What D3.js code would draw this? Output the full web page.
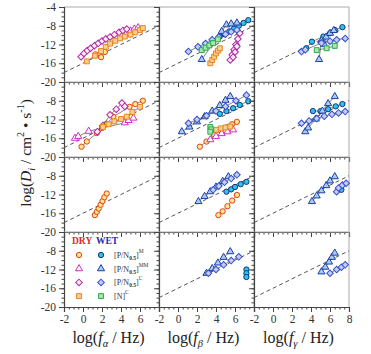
<!DOCTYPE html>
<html>
<head>
<meta charset="utf-8">
<script src="https://cdn.jsdelivr.net/npm/d3@7"></script>
<style>
  body { margin: 0; background: #fff; }
  svg { display: block; font-family: 'Liberation Serif', 'DejaVu Serif', serif; }
  .axis path, .axis line { stroke: #444; }
  .axis text { font-family: 'Liberation Serif', serif; font-size: 11.5px; fill: #333; }
</style>
</head>
<body>
<svg id="chart" width="371" height="354"></svg>
<script>
// tick labels and panel setup
var xTicks = [-2, 0, 2, 4, 6, 8];
var yTicks = [-4, -8, -12, -16, -20];
var freqSymbols = ['α', 'β', 'γ'];
var seriesKeys = ['dryM', 'dryMM', 'dryC', 'dryN', 'wetM', 'wetMM', 'wetC', 'wetN'];
var legendSups = ['M', 'MM', 'C', 'C'];
var refLine = [[-2, -18], [8, -8]];

// data per panel: [row, col] -> series -> [log f, log D]
var p00 = {
  dryC: [[-0.2, -14.6], [0.1, -13.9], [0.45, -13.3], [0.8, -12.8], [1.2, -12.25], [1.6, -11.75], [2.0, -11.25], [2.4, -10.8], [2.85, -10.4], [3.3, -9.9], [3.8, -9.4], [4.2, -9.0], [4.6, -8.7]],
  dryN: [[0.4, -15.6], [1.25, -14.4], [1.9, -13.4], [2.4, -12.5], [2.85, -11.8], [3.4, -11.2], [3.9, -10.7], [4.4, -10.3], [5.0, -9.9], [5.5, -9.4], [6.0, -8.9], [6.3, -8.5]],
  dryM: [[1.3, -14.1], [1.9, -14.7], [2.3, -13.6]],
  dryMM: [[4.6, -9.6], [5.0, -9.1], [5.4, -8.7], [5.8, -8.4]]
};
var p01 = {
  wetC: [[1.1, -13.5], [2.1, -12.5], [2.9, -11.8], [3.6, -11.0], [4.3, -10.4], [5.0, -9.8], [5.6, -9.3], [6.2, -8.9]],
  wetMM: [[2.5, -15.2], [4.6, -9.2], [5.1, -7.8], [5.6, -7.6], [6.2, -7.4]],
  wetN: [[2.5, -13.2], [2.9, -12.7], [3.3, -12.2], [3.7, -11.7], [4.2, -10.9]],
  wetM: [[4.4, -10.3], [4.9, -9.8], [5.4, -9.2], [5.9, -8.6], [6.4, -8.0], [6.9, -7.4], [7.4, -6.8]],
  dryN: [[3.4, -16.0], [3.6, -15.3], [3.8, -14.6], [4.0, -13.9], [4.2, -13.3], [4.4, -12.8]],
  dryC: [[5.5, -15.3], [5.7, -14.2], [5.9, -13.1], [6.1, -12.0], [6.3, -10.8], [6.5, -9.6], [5.8, -14.7], [6.0, -13.6], [6.2, -12.4]]
};
var p02 = {
  wetM: [[3.5, -12.8], [4.1, -11.4], [5.3, -10.3], [6.0, -9.6], [6.5, -8.9], [7.3, -8.3]],
  wetC: [[3.0, -13.5], [3.4, -13.1], [5.1, -11.7], [6.0, -11.3], [6.7, -11.0], [7.6, -10.7]],
  wetN: [[4.6, -13.2], [5.65, -12.8], [6.5, -12.3]],
  wetMM: [[4.85, -15.2], [5.1, -11.2], [5.6, -10.4], [6.0, -9.6], [6.4, -9.0], [5.4, -12.0]]
};
var p10 = {
  dryMM: [[-0.85, -16.0], [-0.5, -15.6], [0.6, -14.5], [4.4, -12.7], [4.8, -12.2], [5.3, -11.7]],
  dryM: [[-0.15, -17.8], [0.4, -16.7], [1.45, -14.9], [2.0, -13.8], [2.5, -12.9], [3.2, -11.4], [4.9, -9.3], [5.5, -8.7], [6.3, -8.0]],
  dryN: [[2.1, -13.6], [2.7, -13.0], [3.3, -12.4], [4.0, -11.9], [4.6, -11.4], [5.2, -10.4], [6.0, -9.3]],
  dryC: [[1.5, -14.6], [2.1, -13.3], [2.85, -11.0], [3.5, -9.8], [4.1, -8.5], [4.4, -9.2]]
};
var p11 = {
  wetMM: [[0.4, -14.6], [1.2, -13.6], [2.0, -12.5], [2.8, -11.4], [3.6, -10.2], [4.4, -9.0], [5.0, -7.9], [5.5, -7.1]],
  wetC: [[1.1, -12.8], [2.0, -12.0], [3.0, -11.2], [4.0, -10.2], [5.0, -9.2], [6.1, -8.0], [7.2, -6.8]],
  wetM: [[4.4, -10.8], [5.1, -10.2], [5.8, -9.6], [6.5, -8.9], [7.4, -8.1]],
  wetN: [[3.4, -13.6], [3.5, -14.1], [3.4, -14.6]],
  dryM: [[2.3, -17.8], [3.0, -16.7], [3.8, -15.3], [4.5, -14.3], [5.2, -13.6], [5.7, -13.0], [6.2, -12.5]],
  dryN: [[4.0, -14.2], [4.5, -13.9], [5.0, -13.7], [5.5, -13.5]],
  dryMM: [[3.4, -16.3], [4.0, -15.6], [4.6, -15.0], [5.2, -14.6], [5.8, -14.2]]
};
var p12 = {
  wetC: [[3.0, -12.8], [3.8, -12.3], [4.6, -11.8], [5.4, -11.3], [6.2, -10.9], [6.9, -10.6], [7.6, -10.3]],
  wetMM: [[3.4, -14.6], [3.7, -13.8], [4.5, -11.9], [5.2, -10.2], [5.8, -8.6], [6.5, -7.1]],
  wetM: [[4.2, -10.2], [5.0, -10.2], [5.8, -9.8], [6.6, -9.2], [7.3, -8.7]]
};
var p20 = {
  dryM: [[1.25, -16.4], [1.45, -15.7], [1.65, -15.0], [1.85, -14.2], [2.05, -13.4], [2.25, -12.6], [2.5, -11.8]]
};
var p21 = {
  wetMM: [[2.15, -13.5], [2.8, -12.4], [3.4, -11.4], [4.0, -10.4], [4.7, -9.2], [5.3, -8.2]],
  wetC: [[3.7, -11.0], [4.3, -10.2], [4.9, -9.4], [5.6, -8.6], [6.2, -7.8]],
  wetM: [[5.1, -11.4], [5.6, -10.9], [6.0, -10.4], [6.6, -9.8], [7.2, -9.3]],
  dryM: [[4.25, -16.4], [4.7, -15.6], [5.2, -14.5], [5.7, -13.3], [6.2, -12.1]]
};
var p22 = {
  wetMM: [[4.1, -13.5], [4.6, -12.3], [5.1, -11.2], [5.6, -10.1], [6.0, -9.1], [6.5, -8.2]],
  wetC: [[6.7, -11.4], [6.9, -10.6], [7.3, -10.0], [7.7, -9.6]],
  wetM: [[7.2, -11.0]]
};
var p31 = {
  wetMM: [[3.0, -12.8], [3.6, -11.8], [4.2, -10.6], [4.8, -9.4], [5.5, -8.2]],
  wetC: [[3.2, -12.8], [4.0, -12.0], [4.8, -11.0], [5.6, -10.1], [6.4, -9.3]],
  wetM: [[7.2, -12.0], [7.2, -12.8], [7.2, -13.6]]
};
var p32 = {
  wetMM: [[5.1, -12.5], [5.5, -11.5], [5.9, -10.4], [6.2, -9.4], [6.5, -8.5]],
  wetC: [[6.0, -12.8], [6.7, -12.0], [7.2, -11.5], [7.6, -11.0]]
};
var panels = [
  {row: 0, col: 0, data: p00}, {row: 0, col: 1, data: p01}, {row: 0, col: 2, data: p02},
  {row: 1, col: 0, data: p10}, {row: 1, col: 1, data: p11}, {row: 1, col: 2, data: p12},
  {row: 2, col: 0, data: p20}, {row: 2, col: 1, data: p21}, {row: 2, col: 2, data: p22},
  {row: 3, col: 0, data: null}, {row: 3, col: 1, data: p31}, {row: 3, col: 2, data: p32}
];

// diamonds drawn as a square turned 45deg
var styles = {
  dryM:  {shape: d3.symbolCircle,   size: 22, rot: 0,  stroke: '#e2401e', fill: '#fbe98a'},
  dryMM: {shape: d3.symbolTriangle, size: 22, rot: 0,  stroke: '#d22ec4', fill: '#ffffff'},
  dryC:  {shape: d3.symbolSquare,   size: 22, rot: 45, stroke: '#b02aa8', fill: '#fbeef2'},
  dryN:  {shape: d3.symbolSquare,   size: 24, rot: 0,  stroke: '#e8841e', fill: '#f8cf92'},
  wetM:  {shape: d3.symbolCircle,   size: 22, rot: 0,  stroke: '#13357e', fill: '#2ec3ea'},
  wetMM: {shape: d3.symbolTriangle, size: 22, rot: 0,  stroke: '#1e3fa0', fill: '#a8cbf4'},
  wetC:  {shape: d3.symbolSquare,   size: 22, rot: 45, stroke: '#3353c6', fill: '#c5cbf6'},
  wetN:  {shape: d3.symbolSquare,   size: 24, rot: 0,  stroke: '#2aa94a', fill: '#a6e6b0'}
};

const marginLeft = 64, marginTop = 7, panelW = 95, panelH = 75;
var svg = d3.select('#chart');

panels.forEach(function (p) {
  var x0 = marginLeft + p.col * panelW, y0 = marginTop + p.row * panelH;
  var x = d3.scaleLinear().domain([-2, 8]).range([x0, x0 + panelW]);
  var y = d3.scaleLinear().domain([-20, -4]).range([y0 + panelH, y0]);
  var g = svg.append('g');

  // frame: light top/right border
  g.append('path')
    .attr('d', `M${x0},${y0}H${x0 + panelW}V${y0 + panelH}`)
    .attr('fill', 'none').attr('stroke', '#aaa').attr('stroke-width', 1);

  // minor ticks first, then majors on top
  g.append('g').attr('class', 'axis').attr('transform', `translate(0,${y0 + panelH})`)
    .call(d3.axisBottom(x).tickValues(d3.range(-2, 8.01, 0.5)).tickSize(2.5).tickFormat(''));
  g.append('g').attr('class', 'axis').attr('transform', `translate(${x0},0)`)
    .call(d3.axisLeft(y).tickValues(d3.range(-20, -3.99, 1)).tickSize(2.5).tickFormat(''));

  var xt = p.col === 2 ? xTicks : xTicks.slice(0, 5);
  g.append('g').attr('class', 'axis').attr('transform', `translate(0,${y0 + panelH})`)
    .call(d3.axisBottom(x).tickValues(xTicks).tickSize(5)
      .tickFormat(d => (p.row === 3 && xt.indexOf(d) !== -1) ? d : ''))
    .call(s => s.select('.domain').attr('stroke-width', 1.2));
  var yt = p.row === 0 ? yTicks : yTicks.slice(1);
  g.append('g').attr('class', 'axis').attr('transform', `translate(${x0},0)`)
    .call(d3.axisLeft(y).tickValues(yTicks).tickSize(5)
      .tickFormat(d => (p.col === 0 && yt.indexOf(d) !== -1) ? d : ''))
    .call(s => s.select('.domain').attr('stroke-width', 1.2));

  if (!p.data) return;

  // dashed reference line
  g.append('line')
    .attr('x1', x(refLine[0][0])).attr('y1', y(refLine[0][1]))
    .attr('x2', x(refLine[1][0])).attr('y2', y(refLine[1][1]))
    .attr('stroke', '#555').attr('stroke-width', 1).attr('stroke-dasharray', '4,3');

  seriesKeys.forEach(function (key) {
    var pts = p.data[key];
    if (!pts) return;
    var st = styles[key];
    if (pts.length > 2) {
      var sorted = pts.slice().sort((a, b) => a[0] - b[0]);
      g.append('path')
        .attr('d', d3.line().x(d => x(d[0])).y(d => y(d[1]))(sorted))
        .attr('fill', 'none').attr('stroke', '#333').attr('stroke-width', 0.6);
    }
    g.selectAll('.m-' + key).data(pts).enter().append('path')
      .attr('class', 'm-' + key)
      .attr('transform', d => `translate(${x(d[0])},${y(d[1])}) rotate(${st.rot})`)
      .attr('d', d3.symbol().type(st.shape).size(st.size))
      .attr('fill', st.fill).attr('stroke', st.stroke).attr('stroke-width', 1);
  });
});

// legend in the empty lower-left panel
var lg = svg.append('g');
lg.append('text').attr('x', 72).attr('y', 244).attr('font-size', 9.5).attr('font-weight', 'bold')
  .attr('fill', '#e02828').text('DRY');
lg.append('text').attr('x', 96).attr('y', 244).attr('font-size', 9.5).attr('font-weight', 'bold')
  .attr('fill', '#2a2ab8').text('WET');
legendSups.forEach(function (sup, i) {
  var ly = 255 + i * 13.7;
  [seriesKeys[i], seriesKeys[i + 4]].forEach(function (key, j) {
    var st = styles[key];
    lg.append('path')
      .attr('transform', `translate(${j ? 101 : 79},${ly}) rotate(${st.rot})`)
      .attr('d', d3.symbol().type(st.shape).size(st.size))
      .attr('fill', st.fill).attr('stroke', st.stroke).attr('stroke-width', 1);
  });
  var t = lg.append('text').attr('x', 114).attr('y', ly + 3).attr('font-size', 8).attr('fill', '#333');
  if (i < 3) {
    t.append('tspan').text('[P/N');
    t.append('tspan').attr('font-size', 5.5).attr('font-weight', 'bold').attr('dy', 2).text('0.5');
    t.append('tspan').attr('dy', -2).text(']');
  } else {
    t.append('tspan').text('[N]');
  }
  t.append('tspan').attr('font-size', 5.5).attr('dy', -5).text(sup);
});

// axis titles
var yTitle = svg.append('text').attr('transform', 'translate(31,153) rotate(-90)')
  .attr('text-anchor', 'middle').attr('font-size', 15.5).attr('fill', '#222');
yTitle.append('tspan').text('log(');
yTitle.append('tspan').attr('font-style', 'italic').text('D');
yTitle.append('tspan').attr('font-size', 10).attr('font-style', 'italic').attr('dy', 4).text('i');
yTitle.append('tspan').attr('dy', -4).text(' / cm');
yTitle.append('tspan').attr('font-size', 10).attr('dy', -7).text('2');
yTitle.append('tspan').attr('dy', 7).text(' • s');
yTitle.append('tspan').attr('font-size', 10).attr('dy', -7).text('-1');
yTitle.append('tspan').attr('dy', 7).text(')');

freqSymbols.forEach(function (sym, c) {
  var t = svg.append('text').attr('x', marginLeft + c * panelW + panelW / 2 - 3).attr('y', 343)
    .attr('text-anchor', 'middle').attr('font-size', 16).attr('fill', '#222');
  t.append('tspan').text('log(');
  t.append('tspan').attr('font-style', 'italic').text('f');
  t.append('tspan').attr('font-size', 10.5).attr('font-style', 'italic').attr('dy', 4).text(sym);
  t.append('tspan').attr('dy', -4).text(' / Hz)');
});
</script>
</body>
</html>
